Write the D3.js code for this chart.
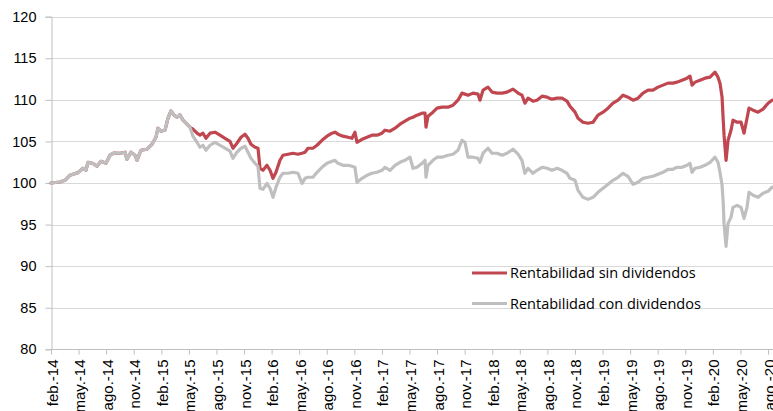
<!DOCTYPE html>
<html>
<head>
<meta charset="utf-8">
<script src="https://cdn.jsdelivr.net/npm/d3@7"></script>
<style>
  html, body { margin: 0; padding: 0; background: #fff; }
  svg { display: block; font-family: "Open Sans", Lato, sans-serif; }
</style>
</head>
<body>
<div id="chart"></div>
<script>
'use strict'

// fechas en año decimal (lectura del gráfico)
const dates = [
  2014.083, 2014.165, 2014.210, 2014.255, 2014.328, 2014.373, 2014.400, 2014.419, 2014.464, 2014.500,
  2014.536, 2014.582, 2014.618, 2014.654, 2014.709, 2014.754, 2014.772, 2014.808, 2014.845, 2014.863,
  2014.899, 2014.954, 2014.999, 2015.035, 2015.053, 2015.080, 2015.117, 2015.144, 2015.171, 2015.198,
  2015.225, 2015.253, 2015.280, 2015.316, 2015.343, 2015.370, 2015.407, 2015.434, 2015.461, 2015.488,
  2015.525, 2015.570, 2015.615, 2015.661, 2015.706, 2015.733, 2015.769, 2015.806, 2015.842, 2015.869,
  2015.896, 2015.933, 2015.960, 2015.978, 2016.005, 2016.041, 2016.069, 2016.096, 2016.123, 2016.159,
  2016.186, 2016.232, 2016.277, 2016.322, 2016.359, 2016.386, 2016.413, 2016.458, 2016.495, 2016.540,
  2016.585, 2016.631, 2016.658, 2016.685, 2016.730, 2016.776, 2016.812, 2016.839, 2016.857, 2016.903,
  2016.948, 2016.993, 2017.039, 2017.084, 2017.111, 2017.157, 2017.202, 2017.247, 2017.292, 2017.338,
  2017.365, 2017.401, 2017.447, 2017.474, 2017.483, 2017.501, 2017.546, 2017.583, 2017.628, 2017.682,
  2017.728, 2017.773, 2017.809, 2017.836, 2017.864, 2017.909, 2017.954, 2017.972, 2018.000, 2018.045,
  2018.081, 2018.127, 2018.172, 2018.217, 2018.272, 2018.317, 2018.353, 2018.380, 2018.408, 2018.453,
  2018.489, 2018.535, 2018.580, 2018.625, 2018.671, 2018.716, 2018.761, 2018.788, 2018.834, 2018.861,
  2018.906, 2018.952, 2018.997, 2019.042, 2019.088, 2019.133, 2019.178, 2019.224, 2019.269, 2019.314,
  2019.360, 2019.405, 2019.450, 2019.496, 2019.541, 2019.586, 2019.632, 2019.677, 2019.722, 2019.759,
  2019.804, 2019.849, 2019.876, 2019.895, 2019.922, 2019.967, 2020.012, 2020.058, 2020.103, 2020.130,
  2020.148, 2020.167, 2020.176, 2020.185, 2020.203, 2020.221, 2020.248, 2020.266, 2020.303, 2020.339,
  2020.366, 2020.393, 2020.411, 2020.448, 2020.493, 2020.538, 2020.584, 2020.620
]

// Rentabilidad sin dividendos
const sinDividendos = [
  100.00, 100.12, 100.32, 100.93, 101.25, 101.77, 101.53, 102.49, 102.34, 102.01,
  102.61, 102.37, 103.34, 103.61, 103.58, 103.70, 102.85, 103.70, 103.34, 102.73,
  103.94, 104.06, 104.66, 105.50, 106.59, 106.23, 106.35, 107.79, 108.67, 108.16,
  107.91, 108.19, 107.55, 107.07, 106.71, 106.47, 105.99, 105.75, 105.99, 105.38,
  105.99, 106.11, 105.75, 105.38, 105.02, 104.18, 104.78, 105.50, 105.87, 105.38,
  104.66, 104.30, 104.18, 101.77, 101.53, 102.13, 101.53, 100.56, 101.29, 102.73,
  103.34, 103.46, 103.58, 103.46, 103.58, 103.70, 104.18, 104.18, 104.54, 105.14,
  105.63, 105.99, 106.11, 105.87, 105.63, 105.50, 105.38, 106.11, 104.90, 105.26,
  105.50, 105.75, 105.75, 105.99, 106.35, 106.23, 106.59, 107.07, 107.43, 107.79,
  107.91, 108.16, 108.40, 108.40, 106.71, 108.03, 108.52, 109.00, 109.12, 109.12,
  109.36, 109.96, 110.81, 110.69, 110.56, 110.81, 110.69, 109.96, 111.17, 111.53,
  110.93, 110.81, 110.81, 110.93, 111.29, 110.81, 110.56, 109.60, 110.20, 109.84,
  109.96, 110.44, 110.32, 110.08, 110.20, 110.20, 109.84, 109.24, 108.52, 107.79,
  107.31, 107.19, 107.31, 108.16, 108.52, 109.00, 109.60, 109.96, 110.56, 110.32,
  109.96, 110.20, 110.81, 111.17, 111.17, 111.53, 111.77, 112.01, 112.01, 112.13,
  112.37, 112.61, 112.85, 111.77, 112.13, 112.37, 112.61, 112.73, 113.34, 112.73,
  112.01, 110.32, 107.91, 105.75, 102.73, 105.14, 106.35, 107.55, 107.31, 107.31,
  105.99, 107.79, 109.00, 108.76, 108.52, 108.88, 109.60, 109.96
]

// Rentabilidad con dividendos
const conDividendos = [
  100.00, 100.12, 100.32, 100.93, 101.25, 101.77, 101.53, 102.49, 102.34, 102.01,
  102.61, 102.37, 103.34, 103.61, 103.58, 103.70, 102.85, 103.70, 103.34, 102.73,
  103.94, 104.06, 104.66, 105.50, 106.59, 106.23, 106.35, 107.79, 108.67, 108.16,
  107.91, 108.19, 107.55, 107.07, 106.71, 105.63, 104.90, 104.30, 104.54, 103.94,
  104.54, 104.90, 104.54, 104.18, 103.82, 102.97, 103.70, 104.18, 104.42, 103.70,
  102.97, 102.37, 102.01, 99.36, 99.24, 99.96, 99.36, 98.28, 99.48, 100.69,
  101.17, 101.17, 101.29, 101.17, 99.96, 100.56, 100.69, 100.69, 101.29, 101.89,
  102.37, 102.61, 102.73, 102.37, 102.13, 102.13, 102.01, 101.89, 100.08, 100.56,
  100.93, 101.17, 101.29, 101.53, 101.89, 101.53, 102.13, 102.49, 102.73, 103.10,
  101.77, 101.89, 102.37, 102.73, 100.69, 102.13, 102.73, 103.10, 103.10, 103.34,
  103.46, 103.94, 105.14, 104.90, 103.10, 103.10, 102.97, 102.49, 103.58, 104.18,
  103.58, 103.58, 103.34, 103.58, 104.06, 103.46, 102.73, 101.17, 101.77, 101.17,
  101.53, 101.89, 101.77, 101.53, 101.77, 101.53, 101.17, 100.56, 100.32, 99.12,
  98.28, 98.03, 98.28, 98.88, 99.36, 99.84, 100.32, 100.69, 101.17, 100.81,
  99.84, 100.08, 100.56, 100.69, 100.81, 101.05, 101.29, 101.65, 101.65, 101.89,
  101.89, 102.13, 102.37, 101.29, 101.77, 101.89, 102.13, 102.49, 103.10, 102.49,
  101.29, 99.72, 97.91, 95.14, 92.37, 95.14, 95.87, 97.07, 97.31, 97.07,
  95.75, 97.07, 98.88, 98.52, 98.28, 98.76, 99.00, 99.50
]

const seriesNames = ['Rentabilidad sin dividendos', 'Rentabilidad con dividendos']
const seriesColors = ['#C0464F', '#BFBFBF']

const yTicks = [80, 85, 90, 95, 100, 105, 110, 115, 120]
const xTickLabels = [
  'feb.-14', 'may.-14', 'ago.-14', 'nov.-14', 'feb.-15', 'may.-15', 'ago.-15', 'nov.-15',
  'feb.-16', 'may.-16', 'ago.-16', 'nov.-16', 'feb.-17', 'may.-17', 'ago.-17', 'nov.-17',
  'feb.-18', 'may.-18', 'ago.-18', 'nov.-18', 'feb.-19', 'may.-19', 'ago.-19', 'nov.-19',
  'feb.-20', 'may.-20', 'ago.-20'
]
// feb = mes 1 (desde enero), cada trimestre +3 meses
const xTickValues = xTickLabels.map((d, i) => 2014 + (1 + 3 * i) / 12)

////////////////////////////////////
//////////// svg setup /////////////
////////////////////////////////////

const svgWidth = 773
const svgHeight = 411
const margin = { left: 51, top: 16.7, right: 5, bottom: 62 }

const svg = d3.select('#chart')
  .append('svg')
  .attr('width', svgWidth)
  .attr('height', svgHeight)

const x = d3.scaleLinear()
  .domain([xTickValues[0], xTickValues[xTickValues.length - 1]])
  .range([margin.left, 768])

const y = d3.scaleLinear()
  .domain([80, 120])
  .range([349.3, margin.top])

// gridlines
svg.append('g')
  .selectAll('line')
  .data(yTicks.filter(d => d > 80))
  .join('line')
  .attr('x1', margin.left)
  .attr('x2', svgWidth)
  .attr('y1', d => Math.round(y(d)) + 0.5)
  .attr('y2', d => Math.round(y(d)) + 0.5)
  .style('stroke', '#D9D9D9')
  .style('stroke-width', 1)

// y axis
const yAxis = svg.append('g')
  .attr('transform', `translate(${margin.left + 0.5},0)`)
  .call(d3.axisLeft(y).tickValues(yTicks).tickSize(6).tickPadding(9))
yAxis.select('.domain').style('stroke', '#BFBFBF')
yAxis.selectAll('.tick line').style('stroke', '#BFBFBF')
yAxis.selectAll('.tick text')
  .style('font-size', '14.5px')
  .style('fill', '#000')

// x axis
const xAxis = svg.append('g')
  .attr('transform', `translate(0,${Math.round(y(80)) + 0.5})`)
  .call(d3.axisBottom(x).tickValues(xTickValues).tickFormat((d, i) => xTickLabels[i]).tickSize(5).tickSizeOuter(0))
xAxis.select('.domain').attr('d', `M${margin.left},0H${svgWidth}`).style('stroke', '#BFBFBF')
xAxis.selectAll('.tick line').style('stroke', '#BFBFBF')
xAxis.selectAll('.tick text')
  .style('font-size', '15px')
  .style('fill', '#000')
  .attr('text-anchor', 'end')
  .attr('transform', 'rotate(-90)')
  .attr('x', -10)
  .attr('y', 0)
  .attr('dy', '0.4em')

////////////////////////////////////
//////////// lines /////////////////
////////////////////////////////////

const line = d3.line()
  .x(d => x(d.t))
  .y(d => y(d.v))

const series = [sinDividendos, conDividendos].map((vals, k) => ({
  name: seriesNames[k],
  color: seriesColors[k],
  values: vals.map((v, i) => ({ t: dates[i], v: v }))
}))

svg.append('g')
  .selectAll('path')
  .data(series)
  .join('path')
  .attr('d', d => line(d.values))
  .style('fill', 'none')
  .style('stroke', d => d.color)
  .style('stroke-width', 3.2)
  .style('stroke-linejoin', 'round')
  .style('stroke-linecap', 'round')

// legend
const legend = svg.append('g')
  .selectAll('g')
  .data(series)
  .join('g')
  .attr('transform', (d, i) => `translate(472,${273 + i * 30.5})`)

legend.append('line')
  .attr('x1', 0)
  .attr('x2', 35)
  .style('stroke', d => d.color)
  .style('stroke-width', 3.2)

legend.append('text')
  .attr('x', 38)
  .attr('dy', '0.35em')
  .style('font-size', '14.5px')
  .text(d => d.name)
</script>
</body>
</html>
